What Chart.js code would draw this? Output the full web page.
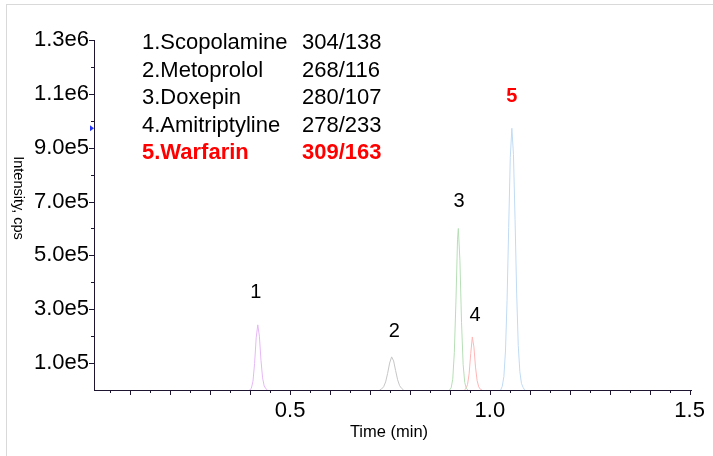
<!DOCTYPE html>
<html>
<head>
<meta charset="utf-8">
<script src="https://cdn.jsdelivr.net/npm/chart.js@4"></script>
<style>
  html, body { margin: 0; padding: 0; background: #fff; }
  #wrap { position: relative; width: 713px; height: 456px; overflow: hidden; }
  #frame { position: absolute; left: 6px; top: 4px; width: 800px; height: 600px;
           border-left: 1px solid #d9d9d9; border-top: 1px solid #d9d9d9; }
  canvas { position: absolute; left: 0; top: 0; }
</style>
</head>
<body>
<div id="wrap">
  <div id="frame"></div>
  <canvas id="chart" width="713" height="456"></canvas>
</div>
<script>
// compounds and MRM transitions
const compounds = ['1.Scopolamine', '2.Metoprolol', '3.Doxepin', '4.Amitriptyline', '5.Warfarin'];
const transitions = ['304/138', '268/116', '280/107', '278/233', '309/163'];
const peakLabels = ['1', '2', '3', '4', '5'];

// chromatogram points, time (min) and intensity (cps)
const scopolamineTime = [0.399, 0.403, 0.407, 0.411, 0.415, 0.419, 0.423, 0.427, 0.431, 0.435, 0.439, 0.443];
const scopolamineInt  = [0, 7000, 33000, 99000, 194000, 242000, 200000, 110000, 45000, 15000, 5000, 0];

const metoprololTime = [0.724, 0.729, 0.734, 0.739, 0.744, 0.749, 0.754, 0.759, 0.764, 0.769, 0.774, 0.779, 0.784];
const metoprololInt  = [0, 4000, 12000, 30000, 62000, 100000, 123000, 108000, 72000, 38000, 16000, 6000, 0];

const doxepinTime = [0.899, 0.903, 0.907, 0.911, 0.915, 0.919, 0.921, 0.925, 0.929, 0.933, 0.937, 0.941, 0.945];
const doxepinInt  = [0, 8000, 40000, 140000, 330000, 560000, 600000, 480000, 250000, 95000, 28000, 6000, 0];

const amitriptylineTime = [0.936, 0.940, 0.944, 0.948, 0.952, 0.956, 0.960, 0.964, 0.968, 0.972, 0.976, 0.980];
const amitriptylineInt  = [0, 5000, 20000, 60000, 135000, 197000, 160000, 85000, 35000, 12000, 3000, 0];

const warfarinTime = [1.027, 1.031, 1.035, 1.039, 1.043, 1.047, 1.051, 1.055, 1.059, 1.063, 1.067, 1.071, 1.075, 1.079, 1.083, 1.087];
const warfarinInt  = [0, 14000, 50000, 145000, 333000, 603000, 863000, 972000, 875000, 632000, 360000, 165000, 68000, 24000, 10000, 0];

// where the peak numbers sit, in data units
const labelTime = [0.414, 0.761, 0.923, 0.963, 1.055];
const labelInt  = [361000, 216000, 700000, 276000, 1090000];

// axis ticks
const yTickValues = [100000, 300000, 500000, 700000, 900000, 1100000, 1300000];
const xTickValues = [0.5, 1.0, 1.5];

const traceColors = ['#e6b8f6', '#c6c6c6', '#b6dfb6', '#ffb6b6', '#c0dbf4'];
const FONT = '"Liberation Sans", Arial, sans-serif';

const traces = [
  [scopolamineTime, scopolamineInt],
  [metoprololTime, metoprololInt],
  [doxepinTime, doxepinInt],
  [amitriptylineTime, amitriptylineInt],
  [warfarinTime, warfarinInt]
];

const datasets = traces.map((tr, i) => ({
  label: compounds[i],
  data: tr[0].map((t, k) => ({ x: t, y: tr[1][k] })),
  borderColor: traceColors[i],
  borderWidth: 1,
  pointRadius: 0,
  tension: 0,
  fill: false
}));

function expLabel(v) {
  return v.toExponential(1).replace('+', '');
}

// tick marks, axis titles, legend text and peak numbers
const decorations = {
  id: 'decorations',
  afterDraw(chart) {
    const ctx = chart.ctx;
    const xs = chart.scales.x, ys = chart.scales.y;
    const axisColor = '#1e1530';
    ctx.save();
    ctx.strokeStyle = axisColor;
    ctx.lineWidth = 1;

    // y ticks every 1e5, longer ones at labels
    for (let v = 100000; v <= 1300000; v += 100000) {
      const y = Math.round(ys.getPixelForValue(v)) + 0.5;
      const len = yTickValues.includes(v) ? 5 : 3;
      ctx.beginPath();
      ctx.moveTo(xs.left, y);
      ctx.lineTo(xs.left - len, y);
      ctx.stroke();
    }
    // x ticks every 0.05 min, longer every 0.1
    for (let k = 1; k <= 30; k++) {
      const x = Math.round(xs.getPixelForValue(k * 0.05)) + 0.5;
      const len = k % 2 === 0 ? 5 : 3;
      ctx.beginPath();
      ctx.moveTo(x, ys.bottom);
      ctx.lineTo(x, ys.bottom + len);
      ctx.stroke();
    }

    // small blue marker on the y axis
    const my = ys.getPixelForValue(Math.max(...warfarinInt));
    ctx.fillStyle = '#2233ff';
    ctx.beginPath();
    ctx.moveTo(xs.left - 4, my - 3);
    ctx.lineTo(xs.left, my);
    ctx.lineTo(xs.left - 4, my + 3);
    ctx.closePath();
    ctx.fill();

    ctx.fillStyle = '#000';
    ctx.textBaseline = 'middle';

    // axis titles
    ctx.textAlign = 'center';
    ctx.font = '16.5px ' + FONT;
    ctx.fillText('Time (min)', 389, 432);
    ctx.save();
    ctx.translate(18, 198);
    ctx.rotate(Math.PI / 2);
    ctx.font = '14.5px ' + FONT;
    ctx.fillText('Intensity, cps', 0, 0);
    ctx.restore();

    // compound list
    ctx.textAlign = 'left';
    compounds.forEach((name, i) => {
      const y = 43 + i * 27.5;
      const last = i === compounds.length - 1;
      ctx.fillStyle = last ? '#ff0000' : '#000';
      ctx.font = (last ? 'bold ' : '') + '22px ' + FONT;
      ctx.fillText(name, 142, y);
      ctx.fillText(transitions[i], 302, y);
    });

    // peak numbers
    ctx.textAlign = 'center';
    peakLabels.forEach((lab, i) => {
      const last = i === peakLabels.length - 1;
      ctx.fillStyle = last ? '#ff0000' : '#000';
      ctx.font = (last ? 'bold ' : '') + '20px ' + FONT;
      ctx.fillText(lab, xs.getPixelForValue(labelTime[i]), ys.getPixelForValue(labelInt[i]));
    });
    ctx.restore();
  }
};

new Chart(document.getElementById('chart'), {
  type: 'line',
  data: { datasets: datasets },
  plugins: [decorations],
  options: {
    responsive: false,
    animation: false,
    devicePixelRatio: 1,
    layout: { padding: { top: 40, right: 20, left: 0, bottom: 0 } },
    plugins: {
      legend: { display: false },
      tooltip: { enabled: false }
    },
    scales: {
      x: {
        type: 'linear',
        min: 0.009,
        max: 1.505,
        grid: { display: false, drawTicks: false },
        border: { display: true, color: '#1e1530', width: 1 },
        afterBuildTicks: s => { s.ticks = xTickValues.map(v => ({ value: v })); },
        afterFit: s => { s.height = 66; },
        ticks: {
          color: '#000',
          font: { family: FONT, size: 22 },
          padding: 8,
          maxRotation: 0,
          callback: v => v.toFixed(1)
        }
      },
      y: {
        min: 0,
        max: 1300000,
        grid: { display: false, drawTicks: false },
        border: { display: true, color: '#1e1530', width: 1 },
        afterBuildTicks: s => { s.ticks = yTickValues.map(v => ({ value: v })); },
        afterFit: s => { s.width = 94; },
        ticks: {
          color: '#000',
          font: { family: FONT, size: 22 },
          padding: 5,
          callback: v => expLabel(v)
        }
      }
    }
  }
});
</script>
</body>
</html>
